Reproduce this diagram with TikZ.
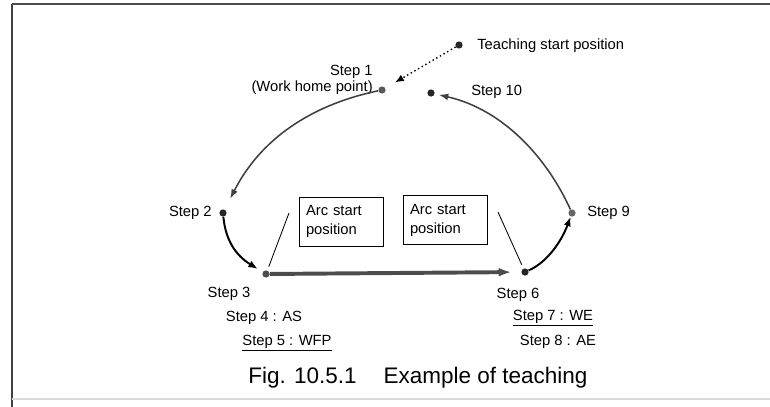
\documentclass[tikz,border=0pt]{standalone}
\usepackage{fontspec}
\setmainfont{Liberation Sans}
\usetikzlibrary{arrows.meta,positioning}

\begin{document}
\begin{tikzpicture}[
    x=0.25mm, y=-0.25mm,
    >=Latex,
    font=\fontsize{10.5}{11.3}\selectfont,
    pt/.style={circle,fill=black!85,inner sep=0pt,minimum size=1.8mm},
    lbl/.style={inner sep=0pt},
    note/.style={draw,line width=0.7pt,align=left,text width=17.5mm,inner xsep=1.75mm,
                 minimum height=12.25mm,font=\fontsize{10.5}{13.5}\selectfont},
    move/.style={line width=1.1pt,draw=black!75,-{Latex[length=2.4mm,width=1.7mm]}},
    near/.style={line width=1.4pt,draw=black,-{Latex[length=2.4mm,width=1.8mm]}},
    weld/.style={line width=2.8pt,draw=black!70,-{Latex[length=3.2mm,width=2.2mm]}}
  ]
  \useasboundingbox (0,0) rectangle (770,407);

  % frame
  \draw[black!70,line width=1.4pt] (12,4) -- (770,4);
  \draw[black!75,line width=1.2pt] (12,4) -- (12,407);
  \draw[black!15,line width=0.8pt] (12,399) -- (770,399);

  % teaching points
  \node[pt]          (tsp) at (459,45)  {};
  \node[pt,fill=black!65] (s1)  at (382,90)  {};
  \node[pt]          (s10) at (431,93)  {};
  \node[pt]          (s2)  at (223,213) {};
  \node[pt,fill=black!70] (s3)  at (266,274) {};
  \node[pt]          (s6)  at (525,272) {};
  \node[pt,fill=black!60] (s9)  at (572,213) {};

  \node[lbl,anchor=west] (tsplbl) at (477,46) {Teaching start position};
  \node[lbl,anchor=east,align=right] (s1lbl) at (373,80) {Step 1\\(Work home point)};
  \node[lbl,anchor=west] (s10lbl) at (471,92)  {Step 10};
  \node[lbl,anchor=east] (s2lbl)  at (212,213) {Step 2};
  \node[lbl,anchor=west] (s9lbl)  at (587,213) {Step 9};
  \node[lbl] (s3lbl) at (229,294) {Step 3};
  \node[lbl] (s4lbl) at (264,318) {Step 4 : AS};
  \node[lbl] (s5lbl) at (287,343) {\underline{Step 5 : WFP}};
  \node[lbl] (s6lbl) at (518,295) {Step 6};
  \node[lbl] (s7lbl) at (553,318) {\underline{Step 7 : WE}};
  \node[lbl] (s8lbl) at (558,342) {Step 8 : AE};

  \node[note] (as) at (341,221.5) {Arc start\\position};
  \node[note] (ae) at (445,220)   {Arc start\\position};
  \coordinate (asend) at (289,213);
  \coordinate (aeend) at (498,212);
  \draw[line width=0.6pt,shorten >=1mm] (asend) -- (s3);
  \draw[line width=0.6pt,shorten >=1mm] (aeend) -- (s6);

  % robot path
  \draw[dotted,line width=1pt,-{Latex[length=2.2mm,width=1.8mm]},shorten >=2.8mm] (tsp) -- (s1);
  \draw[move,shorten >=3mm] (s1) .. controls (310,105) and (260,140) .. (s2);
  \draw[near,shorten >=1.4mm] (s2) .. controls (226,245) and (240,258) .. (s3);
  \draw[weld,shorten >=2.4mm] (s3) -- (s6);
  \draw[near] (s6) .. controls (548,262) and (562,240) .. (s9);
  \draw[move,shorten >=1mm] (s9) .. controls (548,160) and (505,110) .. (s10);

  \node[lbl,anchor=west,font=\fontsize{16}{18}\selectfont] (cap) at (248,378)
    {Fig. 10.5.1\hspace{1.2em}Example of teaching};
\end{tikzpicture}
\end{document}
